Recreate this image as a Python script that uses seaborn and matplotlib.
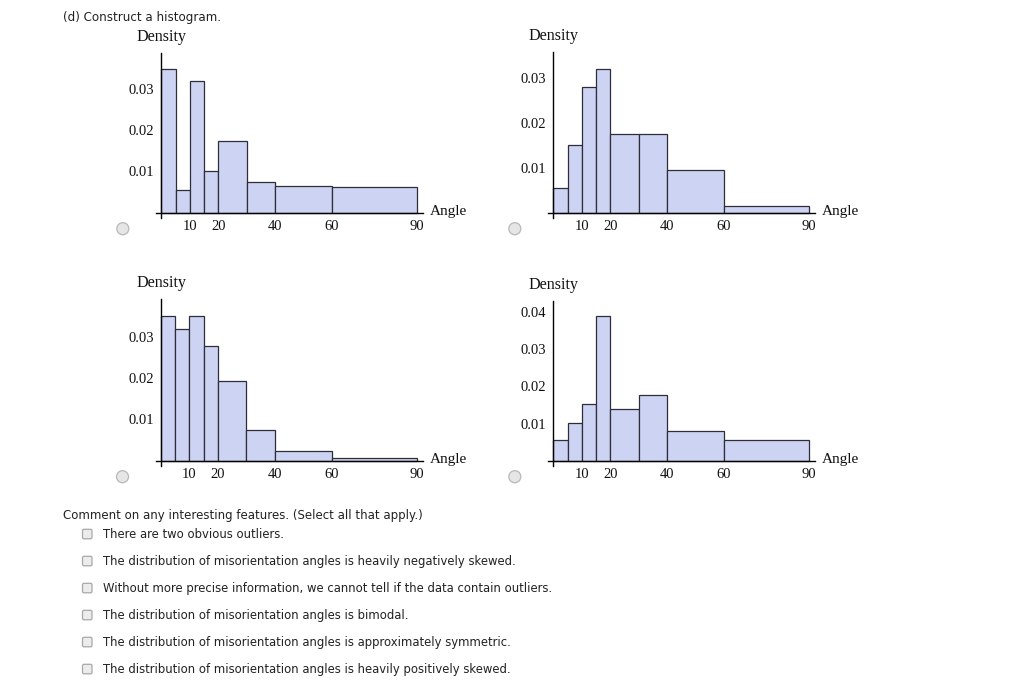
import matplotlib
matplotlib.use("Agg")
import matplotlib.pyplot as plt
from matplotlib.patches import Ellipse, FancyBboxPatch
import numpy as np
import seaborn as sns

# bin edges shared by all four histograms (angle, degrees)
edges = [0, 5, 10, 15, 20, 30, 40, 60, 90]

# densities, one list per option
dens_a = [0.0349, 0.0054, 0.0318, 0.0101, 0.0174, 0.0074, 0.0065, 0.0062]
dens_b = [0.0054, 0.0150, 0.0279, 0.0320, 0.0174, 0.0174, 0.0094, 0.0014]
dens_c = [0.0349, 0.0318, 0.0349, 0.0277, 0.0193, 0.0075, 0.0023, 0.0007]
dens_d = [0.0055, 0.0101, 0.0152, 0.0389, 0.0138, 0.0177, 0.0081, 0.0057]

xticks = [10, 20, 40, 60, 90]
yticks_abc = [0.01, 0.02, 0.03]
yticks_d = [0.01, 0.02, 0.03, 0.04]

title = "(d) Construct a histogram."
question = "Comment on any interesting features. (Select all that apply.)"
choices = [
    "There are two obvious outliers.",
    "The distribution of misorientation angles is heavily negatively skewed.",
    "Without more precise information, we cannot tell if the data contain outliers.",
    "The distribution of misorientation angles is bimodal.",
    "The distribution of misorientation angles is approximately symmetric.",
    "The distribution of misorientation angles is heavily positively skewed.",
]

sns.set_style("white")
serif = ["Liberation Serif", "DejaVu Serif"]
sans = ["DejaVu Sans"]
plt.rcParams["font.family"] = sans

W, H = 1024, 689
fig = plt.figure(figsize=(W / 100, H / 100), dpi=100)
fig.patch.set_facecolor("white")

# pixel layout of each panel: x of angle 0, baseline y, top of y axis, px per 0.01
layout = [
    (161.3, 212.7, 53.0, 41.3),
    (553.3, 212.7, 52.3, 45.0),
    (161.0, 460.7, 299.3, 41.33),
    (553.3, 460.7, 300.7, 37.17),
]
sx = 2.844  # px per degree
mids = [(a + b) / 2 for a, b in zip(edges[:-1], edges[1:])]

overlay = fig.add_axes([0, 0, 1, 1], zorder=5)
overlay.set_xlim(0, W)
overlay.set_ylim(H, 0)
overlay.axis("off")
overlay.patch.set_alpha(0)

for dens, yt, (x0, base, top, k) in zip([dens_a, dens_b, dens_c, dens_d],
                                       [yticks_abc, yticks_abc, yticks_abc, yticks_d],
                                       layout):
    left = x0 - 5.3
    right = x0 + 92 * sx
    bottom = base + 5.3
    ax = fig.add_axes([left / W, 1 - bottom / H, (right - left) / W, (bottom - top) / H])
    sns.histplot(x=mids, weights=dens, bins=edges, stat="count", ax=ax,
                 color="#cdd3f3", alpha=1, edgecolor="#2e2e3a", linewidth=0.9)
    ax.set_xlim(-5.3 / sx, 92)
    ax.set_ylim(-5.3 / k * 0.01, (base - top) / k * 0.01)
    ax.set_facecolor("none")
    for s in ["top", "right"]:
        ax.spines[s].set_visible(False)
    ax.spines["left"].set_position(("data", 0))
    ax.spines["bottom"].set_position(("data", 0))
    for s in ["left", "bottom"]:
        ax.spines[s].set_color("black")
        ax.spines[s].set_linewidth(1.0)
        ax.spines[s].set_zorder(3)
    ax.set_xticks(xticks)
    ax.set_yticks(yt)
    ax.set_xticklabels([str(v) for v in xticks], fontfamily=serif, fontsize=10.5)
    ax.set_yticklabels(["%.2f" % v for v in yt], fontfamily=serif, fontsize=10.5)
    ax.tick_params(direction="out", length=3, width=0.8, pad=2, colors="#111111")
    ax.set_xlabel("")
    ax.set_ylabel("")
    overlay.text(x0, top - 16, "Density", fontfamily=serif, fontsize=11.6,
                 ha="center", va="center", color="#111111")
    overlay.text(right + 7, base - 1, "Angle", fontfamily=serif, fontsize=11,
                 ha="left", va="center", color="#111111")
    # radio button
    overlay.add_patch(Ellipse((x0 - 38.5, base + 16), 12, 12, facecolor="#e6e6e6",
                              edgecolor="#b8b8b8", linewidth=0.9))

overlay.text(63, 18, title, fontsize=8.6, ha="left", va="center", color="#222222")
overlay.text(63, 516, question, fontsize=8.5, ha="left", va="center", color="#222222")
for i, c in enumerate(choices):
    y = 534.3 + i * 27
    overlay.add_patch(FancyBboxPatch((82.5, y - 5), 9.5, 9.5,
                                     boxstyle="round,pad=0,rounding_size=1.5",
                                     facecolor="#ececec", edgecolor="#a8a8a8", linewidth=0.9))
    overlay.text(103, y, c, fontsize=8.4, ha="left", va="center", color="#222222")

fig.savefig("out.png", dpi=100, facecolor="white")
